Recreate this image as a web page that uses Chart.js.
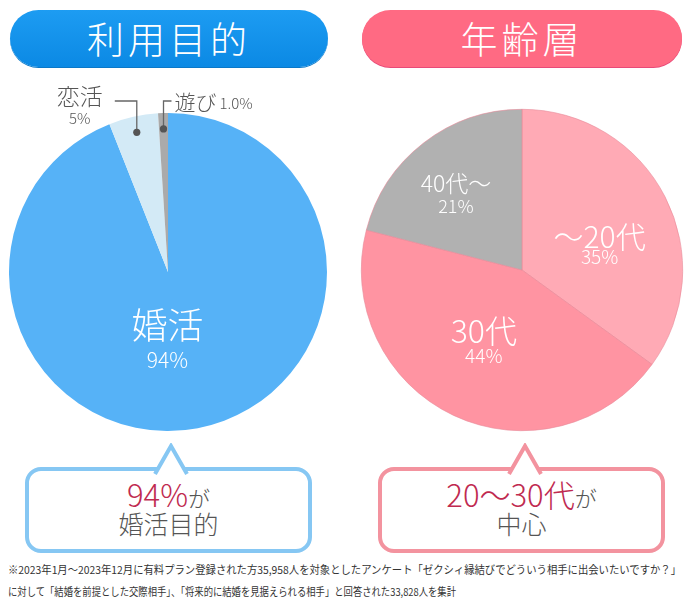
<!DOCTYPE html>
<html lang="ja">
<head>
<meta charset="utf-8">
<script src="https://cdn.jsdelivr.net/npm/chart.js@4.4.1/dist/chart.umd.min.js"></script>
<style>
  html, body { margin: 0; padding: 0; background: #fff; }
  body { width: 690px; height: 614px; position: relative; overflow: hidden;
         font-family: "Noto Sans CJK JP", "Noto Sans", sans-serif; color: #555; }
  .pill { position: absolute; top: 10px; height: 57px; border-radius: 29px; color: #fff;
          font-size: 37px; font-weight: 300; letter-spacing: 4px; text-align: center; line-height: 57px; }
  .pill.blue { left: 10px; width: 318px; background: linear-gradient(#1d9cf2, #0b89e4); box-shadow: 0 1px 0 #0a78c8; }
  .pill.pink { left: 362px; width: 320px; background: #ff6a83; box-shadow: 0 1px 0 #e84a78; }
  .wrap { position: absolute; top: 85px; width: 345px; height: 360px; }
  .callout { position: absolute; top: 467px; width: 279px; height: 78px; border: 4px solid; border-radius: 16px;
             background: #fff; text-align: center; }
  .callout svg { position: absolute; top: -28px; }
  .callout .l1 { margin-top: 6px; height: 34px; line-height: 34px; }
  .callout .l2 { height: 28px; line-height: 28px; margin-top: -2px; font-size: 25px; font-weight: 300; color: #555; }
  .red { color: #c02a50; font-size: 31px; font-weight: 300; }
  .ga { font-size: 22px; font-weight: 300; color: #555; }
  .note { position: absolute; left: 8px; font-size: 11px; color: #333; white-space: nowrap; transform-origin: 0 0; }
</style>
</head>
<body>
<div class="pill blue">利用目的</div>
<div class="pill pink">年齢層</div>

<div class="wrap" style="left:0"><canvas id="purpose"></canvas></div>
<div class="wrap" style="left:345px"><canvas id="age"></canvas></div>

<div class="callout" style="left:25px;border-color:#86c7f3">
  <svg width="40" height="32" style="left:122px"><path d="M4 31 L20 3 L36 31" fill="#fff" stroke="#86c7f3" stroke-width="4" stroke-linejoin="miter"/></svg>
  <div class="l1"><span class="red">94%</span><span class="ga">が</span></div>
  <div class="l2">婚活目的</div>
</div>
<div class="callout" style="left:378px;border-color:#f3939f">
  <svg width="40" height="32" style="left:123px"><path d="M4 31 L20 3 L36 31" fill="#fff" stroke="#f3939f" stroke-width="4" stroke-linejoin="miter"/></svg>
  <div class="l1"><span class="red">20～30代</span><span class="ga">が</span></div>
  <div class="l2">中心</div>
</div>

<div class="note" id="n1" data-w="673" style="top:561px">※2023年1月～2023年12月に有料プラン登録された方35,958人を対象としたアンケート「ゼクシィ縁結びでどういう相手に出会いたいですか？」</div>
<div class="note" id="n2" data-w="448" style="top:583px">に対して「結婚を前提とした交際相手」、「将来的に結婚を見据えられる相手」と回答された33,828人を集計</div>

<script>
// Data
const purposeLabels = ['婚活', '恋活', '遊び'];
const purposeValues = [94, 5, 1];
const purposeText = ['94%', '5%', '1.0%'];

const ageLabels = ['～20代', '30代', '40代～'];
const ageValues = [35, 44, 21];
const ageText = ['35%', '44%', '21%'];

const FONT = '"Noto Sans CJK JP", "Noto Sans", sans-serif';

// fit footnote lines to their measured width
document.querySelectorAll('.note').forEach((el) => {
  const w = el.getBoundingClientRect().width;
  el.style.transform = `scaleX(${Number(el.dataset.w) / w})`;
});

// point on a slice at a fraction of the radius, along its middle angle
function slicePoint(arc, f) {
  const a = (arc.startAngle + arc.endAngle) / 2;
  return { x: arc.x + Math.cos(a) * arc.outerRadius * f, y: arc.y + Math.sin(a) * arc.outerRadius * f };
}

function drawText(ctx, text, x, y, size, color, align) {
  ctx.font = `300 ${size}px ${FONT}`;
  ctx.fillStyle = color;
  ctx.textAlign = align || 'center';
  ctx.textBaseline = 'middle';
  ctx.fillText(text, x, y);
}

// labels: inside ones with name + percent; small slices get a leader line
const sliceLabels = {
  id: 'sliceLabels',
  afterDatasetsDraw(chart, args, opts) {
    const ctx = chart.ctx;
    const arcs = chart.getDatasetMeta(0).data;
    ctx.save();
    opts.items.forEach((it, i) => {
      const arc = arcs[i];
      if (it.inside) {
        const p = slicePoint(arc, it.f);
        const x = p.x + it.dx, y = p.y + it.dy;
        drawText(ctx, chart.data.labels[i], x, y - it.gap, it.size, '#fff');
        drawText(ctx, opts.text[i], x, y + it.gap * 1.05, it.sub, '#fff');
      } else {
        const p = slicePoint(arc, 0.9);
        const elbowY = arc.y - arc.outerRadius - 12;
        ctx.strokeStyle = '#666';
        ctx.lineWidth = 1.3;
        ctx.beginPath();
        ctx.moveTo(p.x, p.y);
        ctx.lineTo(p.x, elbowY);
        ctx.lineTo(p.x + it.arm, elbowY);
        ctx.stroke();
        ctx.fillStyle = '#555';
        ctx.beginPath();
        ctx.arc(p.x, p.y, 3.6, 0, Math.PI * 2);
        ctx.fill();
        if (it.arm < 0) {
          const tx = p.x + it.arm - 35;
          drawText(ctx, chart.data.labels[i], tx, elbowY - 5, 23, '#555');
          drawText(ctx, opts.text[i], tx, elbowY + 17, 15, '#555');
        } else {
          drawText(ctx, chart.data.labels[i], p.x + it.arm + 3, elbowY + 1, 21, '#555', 'left');
          drawText(ctx, opts.text[i], p.x + it.arm + 48, elbowY + 2, 15, '#555', 'left');
        }
      }
    });
    ctx.restore();
  },
};

new Chart(document.getElementById('purpose'), {
  type: 'pie',
  data: {
    labels: purposeLabels,
    datasets: [{
      data: purposeValues,
      backgroundColor: ['#56b2f7', '#d3eaf6', '#aaaaaa'],
      borderWidth: 0,
    }],
  },
  options: {
    responsive: true,
    maintainAspectRatio: false,
    animation: false,
    layout: { padding: { left: 9, right: 18, top: 28, bottom: 14 } },
    plugins: {
      legend: { display: false },
      tooltip: { enabled: false },
      sliceLabels: {
        text: purposeText,
        items: [
          { inside: true, f: 0.45, dx: -14, dy: 0, size: 36, sub: 21, gap: 17 },
          { inside: false, arm: -22 },
          { inside: false, arm: 8 },
        ],
      },
    },
  },
  plugins: [sliceLabels],
});

new Chart(document.getElementById('age'), {
  type: 'pie',
  data: {
    labels: ageLabels,
    datasets: [{
      data: ageValues,
      backgroundColor: ['#ffaab5', '#ff94a2', '#b1b1b1'],
      borderColor: '#e88a98',
      borderWidth: 0.6,
    }],
  },
  options: {
    responsive: true,
    maintainAspectRatio: false,
    animation: false,
    layout: { padding: { left: 16, right: 7, top: 24, bottom: 14 } },
    plugins: {
      legend: { display: false },
      tooltip: { enabled: false },
      sliceLabels: {
        text: ageText,
        items: [
          { inside: true, f: 0.5, dx: 6, dy: 13, size: 30, sub: 19, gap: 10 },
          { inside: true, f: 0.5, dx: -4, dy: 0, size: 32, sub: 19, gap: 12 },
          { inside: true, f: 0.62, dx: -5, dy: 3, size: 23, sub: 18, gap: 11 },
        ],
      },
    },
  },
  plugins: [sliceLabels],
});
</script>
</body>
</html>
